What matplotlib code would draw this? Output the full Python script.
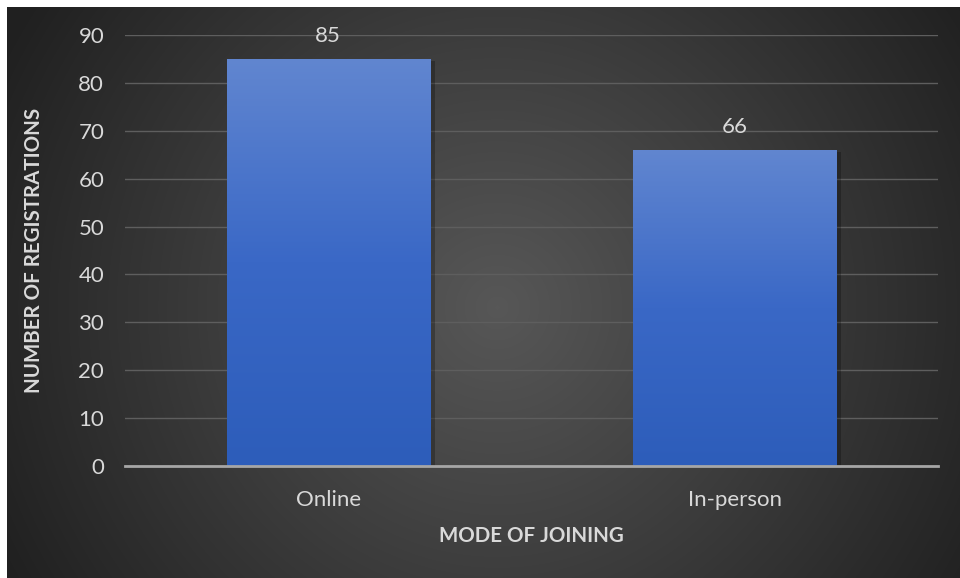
import numpy as np
import matplotlib.pyplot as plt
from matplotlib.colors import LinearSegmentedColormap

categories = ['Online', 'In-person']
registrations = [85, 66]
y_ticks = [0, 10, 20, 30, 40, 50, 60, 70, 80, 90]

plt.rcParams['font.family'] = ['Lato', 'DejaVu Sans']
text_color = '#d9d9d9'

fig = plt.figure(figsize=(9.6, 5.78), dpi=100, facecolor='white')

# dark radial background
bg = fig.add_axes([7 / 960, 0, 1 - 7 / 960, 1 - 7 / 578], zorder=-10)
yy, xx = np.mgrid[0:571, 0:953]
r = np.hypot((xx - 490) / 560.0, (yy - 300) / 560.0)
r = np.clip(r, 0, 1)
bg_cmap = LinearSegmentedColormap.from_list('bg', ['#575757', '#3c3c3c', '#202020'])
bg.imshow(r, cmap=bg_cmap, aspect='auto', vmin=0, vmax=1, interpolation='bilinear')
bg.axis('off')

ax = fig.add_axes([125 / 960, 1 - 466 / 578, (938 - 125) / 960, (466 - 35) / 578])
ax.patch.set_alpha(0)

x = np.arange(len(categories))
bars = ax.bar(x, registrations, width=0.5, color='none', zorder=3)

bar_cmap = LinearSegmentedColormap.from_list('bar', ['#2d5dba', '#3a68c6', '#6186d0'])
grad = np.linspace(0, 1, 256).reshape(-1, 1)
for b in bars:
    x0, w, h = b.get_x(), b.get_width(), b.get_height()
    # soft shadow
    ax.bar(x0 + w / 2 + 0.012, h, width=w, bottom=-0.4, color='black', alpha=0.25, zorder=2)
    im = ax.imshow(grad, cmap=bar_cmap, origin='lower', aspect='auto',
                   extent=[x0, x0 + w, 0, h], zorder=3)
    im.set_clip_path(b)
    ax.text(b.get_x() + w / 2, h + 2.6, f'{h:.0f}', ha='center', va='bottom',
            color=text_color, fontsize=16)

ax.set_xlim(-0.5, 1.5)
ax.set_ylim(0, 90)
ax.set_yticks(y_ticks)
ax.set_xticks(x)
ax.set_xticklabels(categories)
ax.tick_params(axis='both', length=0, colors=text_color, labelsize=16)
ax.tick_params(axis='y', pad=15)
ax.tick_params(axis='x', pad=17)

ax.grid(axis='y', color='#5e5e5e', linewidth=1, zorder=0)
ax.set_axisbelow(True)
for s in ['top', 'right', 'left']:
    ax.spines[s].set_visible(False)
ax.spines['bottom'].set_color('#a6a6a6')
ax.spines['bottom'].set_linewidth(2)
ax.spines['bottom'].set_zorder(4)

ax.set_xlabel('MODE OF JOINING', color=text_color, fontsize=14.8, fontweight='bold', labelpad=12)
ax.set_ylabel('NUMBER OF REGISTRATIONS', color=text_color, fontsize=14.8, fontweight='bold', labelpad=25)

fig.savefig('out.png', dpi=100, facecolor='white')
